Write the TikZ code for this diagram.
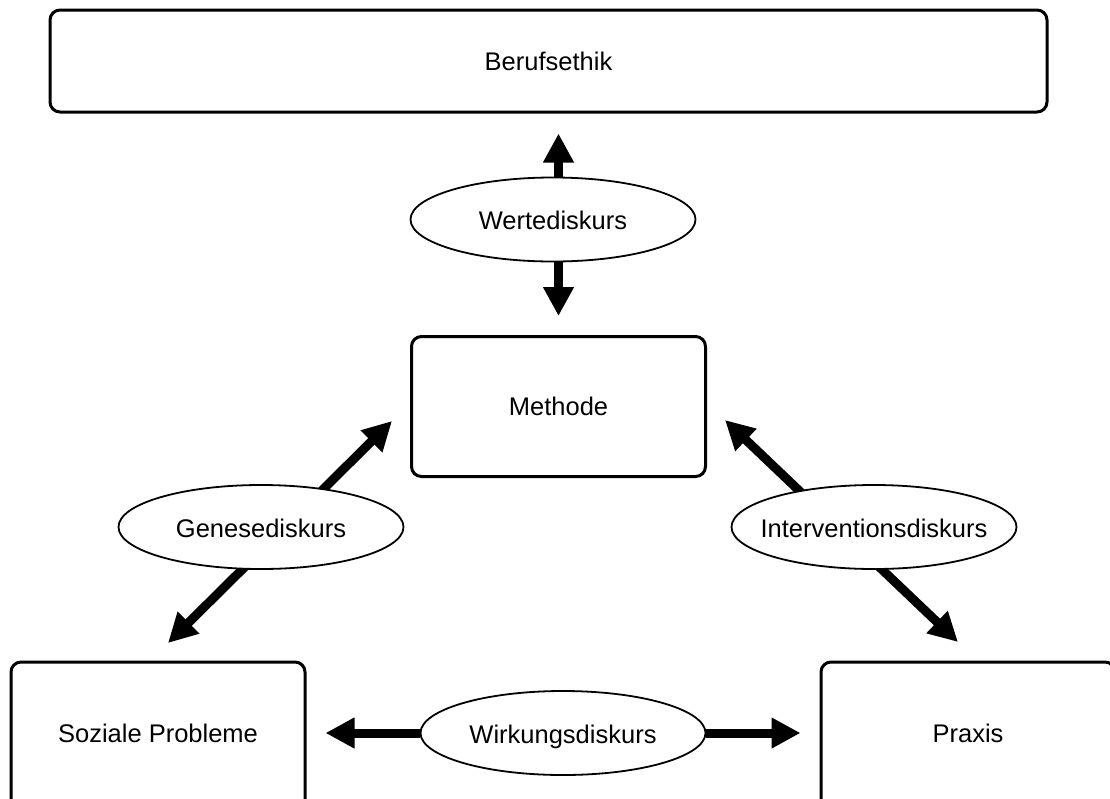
\documentclass[tikz,border=0pt]{standalone}
\usepackage{fontspec}
\setmainfont{Liberation Sans}
\usepackage{tikz}
\usetikzlibrary{shapes.geometric, arrows.meta, backgrounds}
\tikzset{
    base/.style = {rectangle, rounded corners=10pt, draw=black, line width=3pt, fill=white, text centered, font=\fontsize{25.5}{30}\selectfont},
    topic/.style = {base, minimum width=294pt, minimum height=140pt},
    cutbox/.style = {topic, minimum height=160pt, text height=18pt, text depth=18pt},
    ethic/.style = {base, minimum width=997pt, minimum height=102pt},
    disc/.style = {ellipse, draw=black, line width=1.8pt, fill=white, minimum width=285pt, minimum height=84pt, inner xsep=-20pt, inner ysep=0pt, text height=22pt, text depth=2pt, font=\fontsize{25.5}{30}\selectfont},
    arrow/.style = {line width=9pt, -{Triangle[length=29pt, width=29pt]}},
    dblarrow/.style = {line width=9pt, {Triangle[length=29pt, width=29pt]}-{Triangle[length=29pt, width=29pt]}}
}

\begin{document}
\begin{tikzpicture}[x=1pt, y=-1pt]
        \useasboundingbox (0,0) rectangle (1110,798);
        \clip (0,0) rectangle (1110,798);

        % Top: Berufsethik
        \node (ethik) [ethic] at (548.5,61) {Berufsethik};

        % Triangle of topics
        \node (methode) [topic] at (558.5,406.5) {Methode};
        \node (probleme) [cutbox] at (158,742) {Soziale Probleme};
        \node (praxis) [cutbox] at (968,742) {Praxis};

        % Discourses
        \node (werte) [disc] at (553,219.5) {Wertediskurs};
        \node (genese) [disc] at (261,527) {Genesediskurs};
        \node (intervention) [disc] at (874,527) {Interventionsdiskurs};
        \node (wirkung) [disc] at (563,733) {Wirkungsdiskurs};

        % Ends of the diagonal arrows
        \coordinate (genese_up) at (392,421);
        \coordinate (genese_down) at (168,643);
        \coordinate (intervention_up) at (725,420);
        \coordinate (intervention_down) at (958,642);

        \begin{scope}[on background layer]
            % Wertediskurs
            \draw [arrow, shorten >=20pt] (werte.north -| methode.north) -- (ethik.south -| methode.north);
            \draw [arrow, shorten >=19pt] (werte.south -| methode.north) -- (methode.north);

            % Genesediskurs and Interventionsdiskurs
            \draw [dblarrow] (genese_down) -- (genese_up);
            \draw [dblarrow] (intervention_up) -- (intervention_down);

            % Wirkungsdiskurs
            \draw [arrow, shorten >=19pt] (wirkung) -- (probleme.east |- wirkung);
            \draw [arrow, shorten >=19pt] (wirkung) -- (praxis.west |- wirkung);
        \end{scope}
\end{tikzpicture}
\end{document}
